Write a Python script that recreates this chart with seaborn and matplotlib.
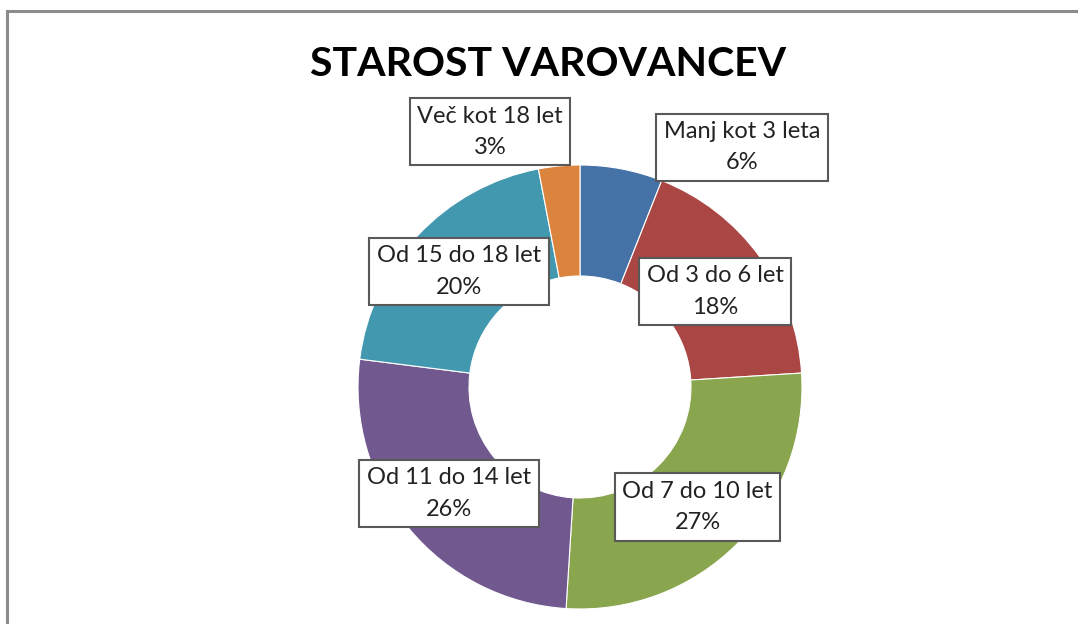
import matplotlib.pyplot as plt
import seaborn as sns
from matplotlib.patches import Rectangle

# Podatki - starost varovancev (delež v %)
skupine = [
    'Manj kot 3 leta',
    'Od 3 do 6 let',
    'Od 7 do 10 let',
    'Od 11 do 14 let',
    'Od 15 do 18 let',
    'Več kot 18 let'
]
delezi = [6, 18, 27, 26, 20, 3]

barve = ['#4572A7', '#AA4643', '#89A54E', '#71588F', '#4198AF', '#DB843D']

# Položaji oznak (v enotah polmera, središče kolobarja = 0, 0)
pozicije = [
    (0.73, 1.08),
    (0.61, 0.43),
    (0.53, -0.54),
    (-0.59, -0.48),
    (-0.545, 0.52),
    (-0.405, 1.15)
]

sns.set_theme(style='white')
plt.rcParams['font.family'] = ['Lato', 'DejaVu Sans']

fig = plt.figure(figsize=(10.78, 6.24), dpi=100)
ax = fig.add_axes([0, 0, 1, 1])

# Kolobar - začetek na vrhu, v smeri urinega kazalca
ax.pie(
    delezi,
    colors=barve,
    startangle=90,
    counterclock=False,
    radius=1.0,
    wedgeprops=dict(width=0.5, edgecolor='white', linewidth=0.8),
)

for ime, d, (x, y) in zip(skupine, delezi, pozicije):
    ax.text(
        x, y, f'{ime}\n{d}%',
        ha='center', va='center',
        fontsize=17, color='#222222', linespacing=1.6,
        bbox=dict(boxstyle='square,pad=0.32', facecolor='white',
                  edgecolor='#595959', linewidth=1.5)
    )

# Postavitev: središče pri (580, 387) px, polmer 222 px
ax.set_xlim(-580 / 222, (1078 - 580) / 222)
ax.set_ylim(-(624 - 387) / 222, 387 / 222)
ax.set_aspect('equal')
ax.axis('off')

fig.text(548 / 1078, 1 - 64 / 624, 'STAROST VAROVANCEV',
         ha='center', va='center', fontsize=29.5, fontweight='bold',
         color='black')

# Okvir grafikona
fig.patches.append(Rectangle((7 / 1078, -0.1), 1.2, 1 - 11 / 624 + 0.1,
                             transform=fig.transFigure, fill=False,
                             edgecolor='#8c8c8c', linewidth=2.2))

fig.savefig('out.png', dpi=100)
